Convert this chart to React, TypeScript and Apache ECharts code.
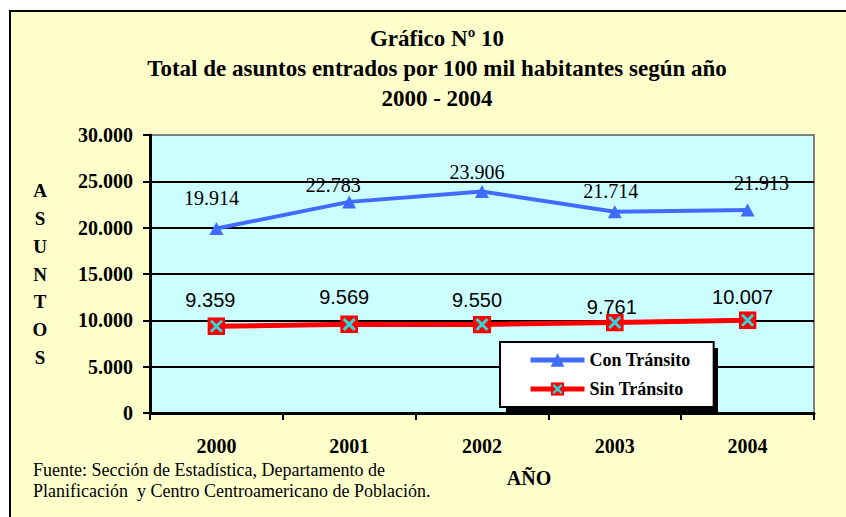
import React, { useEffect, useRef } from "react";
import * as echarts from "echarts";

const years = ["2000", "2001", "2002", "2003", "2004"];
const conTransito = [19914, 22783, 23906, 21714, 21913];
const sinTransito = [9359, 9569, 9550, 9761, 10007];
const yMax = 30000;
const yStep = 5000;

// label nudges (dx, dy) relative to each marker's centre
const conLabelNudge = [[-5, -30], [-16, -17], [-5, -19], [-4, -21], [14, -27]];
const sinLabelNudge = [[-6, -26], [-5, -27], [-5, -25], [-3, -16], [-5, -23]];

const titleLines = [
  "Gráfico Nº 10",
  "Total de asuntos entrados por 100 mil habitantes según año",
  "2000 - 2004",
];
const sourceLines = [
  "Fuente: Sección de Estadística, Departamento de",
  "Planificación  y Centro Centroamericano de Población.",
];

const SERIF = "'Liberation Serif', 'Times New Roman', serif";
const SANS = "'Liberation Sans', Arial, sans-serif";
const BLUE = "#3F6CFF";
const RED = "#FF0000";

const fmt = (v: number) => String(v).replace(/\B(?=(\d{3})+(?!\d))/g, ".");

const xMarkSvg =
  "<svg xmlns='http://www.w3.org/2000/svg' width='18' height='18' viewBox='0 0 18 18'>" +
  "<rect x='0' y='0' width='18' height='18' fill='#FF0000'/>" +
  "<path d='M3.5 3.5L14.5 14.5M14.5 3.5L3.5 14.5' stroke='#2ED8D8' stroke-width='3'/>" +
  "</svg>";
const xMarkSymbol = "image://data:image/svg+xml;charset=utf-8," + encodeURIComponent(xMarkSvg);

export default function App() {
  const ref = useRef<HTMLDivElement>(null);

  useEffect(() => {
    if (!ref.current) return;
    const chart = echarts.init(ref.current, null, { renderer: "svg" });
    const splitColors: string[] = [];
    const nLines = yMax / yStep + 1;
    for (let i = 0; i < nLines; i++) splitColors.push(i === nLines - 1 ? "#808080" : "#000000");

    chart.setOption({
      animation: false,
      backgroundColor: "#FFFFFF",
      title: {
        text: titleLines.join("\n"),
        left: 432,
        top: 18,
        textAlign: "center",
        textStyle: {
          fontFamily: SERIF,
          fontSize: 23,
          fontWeight: "bold",
          lineHeight: 30,
          color: "#000",
        },
      },
      graphic: [
        {
          type: "rect",
          z: -100,
          shape: { x: 10, y: 11, width: 900, height: 600 },
          style: { fill: "#FFFFCC", stroke: "#000", lineWidth: 2 },
        },
        {
          type: "rect",
          z: 3,
          shape: { x: 506, y: 348, width: 212, height: 65 },
          style: { fill: "#000" },
        },
        {
          type: "text",
          z: 5,
          x: 529,
          y: 478,
          style: {
            text: "AÑO",
            fontFamily: SERIF,
            fontSize: 20,
            fontWeight: "bold",
            fill: "#000",
            align: "center",
            verticalAlign: "middle",
          },
        },
        {
          type: "text",
          z: 5,
          x: 33,
          y: 480,
          style: {
            text: sourceLines.join("\n"),
            fontFamily: SERIF,
            fontSize: 18,
            lineHeight: 21,
            fill: "#000",
            align: "left",
            verticalAlign: "middle",
          },
        },
      ],
      legend: {
        left: 500,
        top: 342,
        orient: "vertical",
        backgroundColor: "#FFFFFF",
        borderColor: "#000",
        borderWidth: 2,
        borderRadius: 0,
        padding: [9, 23, 9, 28],
        itemGap: 11,
        itemWidth: 54,
        itemHeight: 17,
        lineStyle: { width: 5 },
        textStyle: {
          fontFamily: SERIF,
          fontSize: 18,
          fontWeight: "bold",
          color: "#000",
        },
        data: ["Con Tránsito", "Sin Tránsito"],
      },
      grid: {
        left: 150,
        right: 32,
        top: 135,
        bottom: 104,
        show: true,
        backgroundColor: "#CCFFFF",
        borderColor: "#808080",
        borderWidth: 2,
      },
      xAxis: {
        type: "category",
        data: years,
        boundaryGap: true,
        axisLine: { show: true, lineStyle: { color: "#000", width: 3 } },
        axisTick: { show: true, length: 7, lineStyle: { color: "#000", width: 2 } },
        axisLabel: {
          margin: 23,
          fontFamily: SERIF,
          fontSize: 20,
          fontWeight: "bold",
          color: "#000",
        },
        splitLine: { show: false },
      },
      yAxis: {
        type: "value",
        min: 0,
        max: yMax,
        interval: yStep,
        name: "ASUNTOS".split("").join("\n"),
        nameLocation: "middle",
        nameRotate: 0,
        nameGap: 110,
        nameTextStyle: {
          fontFamily: SERIF,
          fontSize: 19,
          fontWeight: "bold",
          lineHeight: 27.7,
          color: "#000",
          align: "center",
          verticalAlign: "middle",
        },
        axisLine: { show: true, lineStyle: { color: "#000", width: 3 } },
        axisTick: { show: true, length: 7, lineStyle: { color: "#000", width: 2 } },
        axisLabel: {
          margin: 17,
          fontFamily: SERIF,
          fontSize: 20,
          fontWeight: "bold",
          color: "#000",
          formatter: (v: number) => fmt(v),
        },
        splitLine: { show: true, lineStyle: { color: splitColors, width: 2 } },
      },
      tooltip: { show: false },
      series: [
        {
          name: "Con Tránsito",
          type: "line",
          z: 3,
          data: conTransito.map((v, i) => ({
            value: v,
            label: { offset: conLabelNudge[i] },
          })),
          lineStyle: { color: BLUE, width: 4 },
          itemStyle: { color: BLUE },
          symbol: "triangle",
          symbolSize: [14, 13],
          label: {
            show: true,
            position: "inside",
            fontFamily: SERIF,
            fontSize: 20,
            color: "#000",
            formatter: (p: any) => fmt(p.value),
          },
        },
        {
          name: "Sin Tránsito",
          type: "line",
          z: 3,
          data: sinTransito.map((v, i) => ({
            value: v,
            label: { offset: sinLabelNudge[i] },
          })),
          lineStyle: { color: RED, width: 5 },
          itemStyle: { color: RED },
          symbol: xMarkSymbol,
          symbolSize: 18,
          label: {
            show: true,
            position: "inside",
            fontFamily: SANS,
            fontSize: 20,
            color: "#000",
            formatter: (p: any) => fmt(p.value),
          },
        },
      ],
    });
    return () => chart.dispose();
  }, []);

  return (
    <div
      ref={ref}
      style={{ position: "absolute", left: 0, top: 0, width: 846, height: 517 }}
    />
  );
}
